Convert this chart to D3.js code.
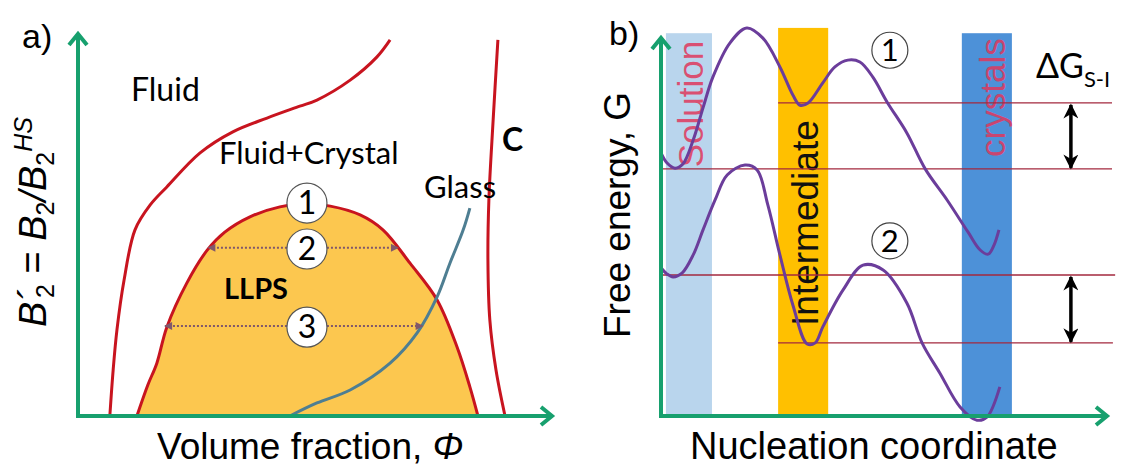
<!DOCTYPE html>
<html>
<head>
<meta charset="utf-8">
<script src="https://cdn.jsdelivr.net/npm/d3@7"></script>
<style>
  body { margin: 0; background: #fff; }
  svg { display: block; }
</style>
</head>
<body>
<svg id="chart" width="1125" height="466"></svg>
<script>
// ---- panel a : phase diagram (schematic units 0..1 on both axes) ----
const fluidCrystalLine = [[0.067,0],[0.074,0.12],[0.082,0.225],[0.097,0.355],[0.12,0.486],[0.152,0.551],
  [0.187,0.598],[0.257,0.687],[0.326,0.742],[0.398,0.778],[0.467,0.809],[0.503,0.825],[0.573,0.877],
  [0.629,0.937],[0.657,0.982]];
const crystalLine = [[0.884,0.982],[0.874,0.773],[0.865,0.564],[0.863,0.407],[0.867,0.251],[0.88,0.12],[0.899,0]];
const glassLine = [[0.446,0],[0.503,0.034],[0.573,0.068],[0.657,0.138],[0.714,0.217],[0.756,0.311],
  [0.783,0.399],[0.811,0.486],[0.825,0.543]];
const llpsDome = [[0.124,0],[0.147,0.081],[0.166,0.138],[0.187,0.232],[0.229,0.347],[0.272,0.433],
  [0.309,0.48],[0.362,0.52],[0.425,0.546],[0.478,0.554],[0.531,0.548],[0.594,0.525],[0.642,0.486],
  [0.699,0.399],[0.756,0.303],[0.798,0.18],[0.825,0.076],[0.842,0]];
const quenchX = 0.482;
const quenchLevels = [0.556, 0.436, 0.232];          // circles 1,2,3
const llpsArrows = [{ level: 0.439, left: 0.274, right: 0.674 },
                    { level: 0.235, left: 0.183, right: 0.726 }];

// ---- panel b : free energy along nucleation coordinate ----
const bands = [
  { name: "Solution",     x0: 0.011, x1: 0.114, top: 1.01,  fill: "#b9d5ed", text: "#e0385c", tx: 0.094, ty: 0.823, size: 35 },
  { name: "Intermediate", x0: 0.262, x1: 0.374, top: 1.024, fill: "#ffc000", text: "#111",    tx: 0.352, ty: 0.509, size: 37 },
  { name: "crystals",     x0: 0.673, x1: 0.785, top: 1.01,  fill: "#4d91d8", text: "#e0385c", tx: 0.77,  ty: 0.84,  size: 35 }
];
const levels = [
  { g: 0.826, x0: 0.262, x1: 1.009 },
  { g: 0.652, x0: 0,     x1: 1.009 },
  { g: 0.372, x0: 0,     x1: 1.016 },
  { g: 0.193, x0: 0.262, x1: 1.011 }
];
const gapArrowX = 0.917;
const gapPairs = [[0.826, 0.652], [0.372, 0.193]];
const path1 = [[0,0.694],[0.013,0.668],[0.031,0.654],[0.049,0.665],[0.072,0.728],[0.094,0.813],[0.116,0.894],
  [0.154,0.984],[0.192,1.024],[0.228,0.997],[0.266,0.921],[0.295,0.847],[0.311,0.82],[0.329,0.826],
  [0.362,0.879],[0.389,0.921],[0.418,0.939],[0.445,0.934],[0.474,0.894],[0.506,0.828],[0.55,0.747],
  [0.591,0.652],[0.64,0.57],[0.687,0.485],[0.714,0.438],[0.732,0.427],[0.745,0.451],[0.756,0.491]];
const path2 = [[0,0.391],[0.013,0.375],[0.027,0.367],[0.047,0.377],[0.072,0.425],[0.094,0.491],[0.121,0.57],
  [0.148,0.636],[0.188,0.662],[0.215,0.649],[0.239,0.557],[0.266,0.425],[0.295,0.293],[0.327,0.19],
  [0.345,0.193],[0.362,0.235],[0.407,0.332],[0.452,0.398],[0.497,0.385],[0.55,0.298],[0.584,0.193],
  [0.624,0.113],[0.669,0.024],[0.707,-0.011],[0.729,-0.003],[0.758,0.077]];
const pathMarks = [{ label: "1", x: 0.512, g: 0.965 }, { label: "2", x: 0.512, g: 0.462 }];

const svg = d3.select("#chart");
const green = "#17a06e", red = "#c8141f", purple = "#6b3d9b";
const arial = "'Liberation Sans', Arial, sans-serif";
const calibri = "Lato, 'Open Sans', sans-serif";

const defs = svg.append("defs");
defs.append("marker").attr("id", "dot-head").attr("viewBox", "0 0 10 10")
  .attr("refX", 9).attr("refY", 5).attr("markerWidth", 9).attr("markerHeight", 8)
  .attr("markerUnits", "userSpaceOnUse").attr("orient", "auto")
  .append("path").attr("d", "M0,0L10,5L0,10Z").attr("fill", "#80586c");
defs.append("marker").attr("id", "gap-head").attr("viewBox", "0 0 10 10")
  .attr("refX", 9).attr("refY", 5).attr("markerWidth", 17).attr("markerHeight", 15)
  .attr("markerUnits", "userSpaceOnUse").attr("orient", "auto-start-reverse")
  .append("path").attr("d", "M0,0L10,5L0,10L3,5Z").attr("fill", "#000");

function axisArrows(g, x, y) {
  const [x0, x1] = x.range(), [y0, y1] = y.range();
  g.append("path").attr("d", `M${x0},${y0}V${y1 + 2}`).attr("stroke", green).attr("stroke-width", 4).attr("fill", "none");
  g.append("path").attr("d", `M${x0 - 2},${y0}H${x1 - 2}`).attr("stroke", green).attr("stroke-width", 4).attr("fill", "none");
  g.append("path").attr("d", `M${x0 - 9},${y1 + 12}L${x0},${y1 + 1}L${x0 + 9},${y1 + 12}`)
    .attr("stroke", green).attr("stroke-width", 4).attr("fill", "none");
  g.append("path").attr("d", `M${x1 - 12},${y0 - 9}L${x1 - 1},${y0}L${x1 - 12},${y0 + 9}`)
    .attr("stroke", green).attr("stroke-width", 4).attr("fill", "none");
}

// ================= panel a =================
const xA = d3.scaleLinear().domain([0, 1]).range([78, 553]);
const yA = d3.scaleLinear().domain([0, 1]).range([416, 33]);
const lineA = d3.line().x(d => xA(d[0])).y(d => yA(d[1])).curve(d3.curveCatmullRom);
const gA = svg.append("g");

gA.append("path").datum(llpsDome)
  .attr("d", d3.area().x(d => xA(d[0])).y0(yA(0)).y1(d => yA(d[1])).curve(d3.curveCatmullRom))
  .attr("fill", "#fcc74f");
gA.append("path").datum(llpsDome).attr("d", lineA).attr("fill", "none").attr("stroke", red).attr("stroke-width", 3);
gA.append("path").datum(fluidCrystalLine).attr("d", lineA).attr("fill", "none").attr("stroke", red).attr("stroke-width", 3);
gA.append("path").datum(crystalLine).attr("d", lineA).attr("fill", "none").attr("stroke", red).attr("stroke-width", 3);
gA.append("path").datum(glassLine).attr("d", lineA).attr("fill", "none").attr("stroke", "#4e7e92").attr("stroke-width", 3);

const rA = 20;
llpsArrows.forEach(a => {
  [[xA(quenchX) - rA, xA(a.left)], [xA(quenchX) + rA, xA(a.right)]].forEach(([s, e]) => {
    gA.append("line").attr("x1", s).attr("x2", e).attr("y1", yA(a.level)).attr("y2", yA(a.level))
      .attr("stroke", "#80586c").attr("stroke-width", 2).attr("stroke-dasharray", "2,2")
      .attr("marker-end", "url(#dot-head)");
  });
});
quenchLevels.forEach((lv, i) => {
  gA.append("circle").attr("cx", xA(quenchX)).attr("cy", yA(lv)).attr("r", rA)
    .attr("fill", "#fff").attr("stroke", "#555").attr("stroke-width", 1.2);
  gA.append("text").attr("x", xA(quenchX)).attr("y", yA(lv) + 11).attr("text-anchor", "middle")
    .attr("font-family", calibri).attr("font-size", 32).text(i + 1);
});

axisArrows(gA, xA, yA);

gA.append("text").attr("x", 22).attr("y", 48).attr("font-family", arial).attr("font-size", 34).text("a)");
gA.append("text").attr("x", 131).attr("y", 101).attr("font-family", calibri).attr("font-size", 32).text("Fluid");
gA.append("text").attr("x", 219).attr("y", 164).attr("font-family", calibri).attr("font-size", 31).text("Fluid+Crystal");
gA.append("text").attr("x", 424).attr("y", 198).attr("font-family", calibri).attr("font-size", 31).text("Glass");
gA.append("text").attr("x", 502).attr("y", 151).attr("font-family", calibri).attr("font-size", 32)
  .attr("font-weight", "bold").text("C");
gA.append("text").attr("x", 224).attr("y", 299).attr("font-family", calibri).attr("font-size", 29)
  .attr("font-weight", "bold").text("LLPS");
gA.append("text").attr("x", 157).attr("y", 459).attr("font-family", arial).attr("font-size", 37)
  .text("Volume fraction, ").append("tspan").attr("font-style", "italic").text("Φ");

const yLab = gA.append("text").attr("transform", "translate(46,222) rotate(-90)")
  .attr("text-anchor", "middle").attr("font-family", arial).attr("font-size", 38).attr("font-style", "italic");
yLab.append("tspan").text("B´");
yLab.append("tspan").attr("dx", -9).attr("font-size", 25).attr("font-style", "normal").attr("baseline-shift", -8).text("2");
yLab.append("tspan").attr("font-style", "normal").text(" = ");
yLab.append("tspan").text("B");
yLab.append("tspan").attr("font-size", 25).attr("font-style", "normal").attr("baseline-shift", -8).text("2");
yLab.append("tspan").text("/B");
yLab.append("tspan").attr("font-size", 25).attr("font-style", "normal").attr("baseline-shift", -8).text("2");
yLab.append("tspan").attr("font-size", 25).attr("baseline-shift", 14).text("HS");

// ================= panel b =================
const xB = d3.scaleLinear().domain([0, 1]).range([661, 1108]);
const yB = d3.scaleLinear().domain([0, 1]).range([416, 37]);
const lineB = d3.line().x(d => xB(d[0])).y(d => yB(d[1])).curve(d3.curveCatmullRom);
const gB = svg.append("g");

gB.selectAll(".band").data(bands).enter().append("rect")
  .attr("x", d => xB(d.x0)).attr("width", d => xB(d.x1) - xB(d.x0))
  .attr("y", d => yB(d.top)).attr("height", d => yB(0) - yB(d.top)).attr("fill", d => d.fill);

gB.selectAll(".band-label").data(bands).enter().append("text")
  .attr("transform", d => `translate(${xB(d.tx)},${yB(d.ty)}) rotate(-90)`)
  .attr("text-anchor", "middle").attr("font-family", arial).attr("font-size", d => d.size)
  .attr("fill", d => d.text).attr("fill-opacity", d => d.name === "Intermediate" ? 1 : 0.85)
  .text(d => d.name);

gB.selectAll(".level").data(levels).enter().append("line")
  .attr("x1", d => xB(d.x0)).attr("x2", d => xB(d.x1))
  .attr("y1", d => yB(d.g)).attr("y2", d => yB(d.g))
  .attr("stroke", "#a3283e").attr("stroke-width", 1.3);

gB.append("path").datum(path1).attr("d", lineB).attr("fill", "none").attr("stroke", purple).attr("stroke-width", 3);
gB.append("path").datum(path2).attr("d", lineB).attr("fill", "none").attr("stroke", purple).attr("stroke-width", 3);

gapPairs.forEach(([hi, lo]) => {
  gB.append("line").attr("x1", xB(gapArrowX)).attr("x2", xB(gapArrowX))
    .attr("y1", yB(hi) + 2).attr("y2", yB(lo) - 1)
    .attr("stroke", "#000").attr("stroke-width", 3.5)
    .attr("marker-start", "url(#gap-head)").attr("marker-end", "url(#gap-head)");
});

pathMarks.forEach(m => {
  gB.append("circle").attr("cx", xB(m.x)).attr("cy", yB(m.g)).attr("r", 18)
    .attr("fill", "#fff").attr("stroke", "#444").attr("stroke-width", 1.2);
  gB.append("text").attr("x", xB(m.x)).attr("y", yB(m.g) + 11).attr("text-anchor", "middle")
    .attr("font-family", calibri).attr("font-size", 31).text(m.label);
});

axisArrows(gB, xB, yB);

gB.append("text").attr("x", 609).attr("y", 45).attr("font-family", arial).attr("font-size", 34).text("b)");
const dg = gB.append("text").attr("x", 1036).attr("y", 78).attr("font-family", calibri).attr("font-size", 34);
dg.append("tspan").text("ΔG");
dg.append("tspan").attr("font-size", 22).attr("baseline-shift", -9).text("S-I");
gB.append("text").attr("x", 690).attr("y", 459).attr("font-family", arial).attr("font-size", 38).text("Nucleation coordinate");
gB.append("text").attr("transform", "translate(630,215) rotate(-90)").attr("text-anchor", "middle")
  .attr("font-family", arial).attr("font-size", 37).text("Free energy, G");
</script>
</body>
</html>
